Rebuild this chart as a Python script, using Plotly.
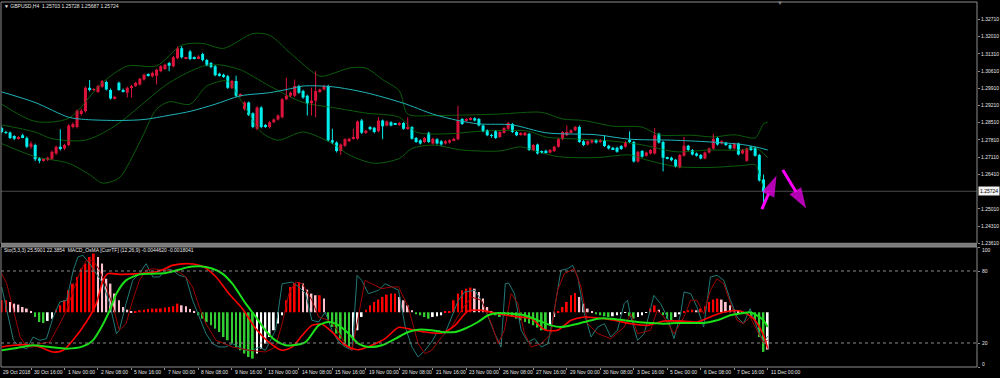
import plotly.graph_objects as go

# ---------------- data ----------------
opens = [1.2829,1.2813,1.2811,1.2797,1.2786,1.2800,1.2789,1.2753,1.2760,1.2706,
1.2698,1.2700,1.2704,1.2726,1.2753,1.2746,1.2760,1.2833,1.2833,1.2886,
1.2897,1.2993,1.2986,1.2976,1.2997,1.3016,1.2984,1.2950,1.3013,1.2984,
1.2973,1.2992,1.3000,1.3006,1.3026,1.3046,1.3040,1.3042,1.3060,1.3069,
1.3093,1.3080,1.3113,1.3153,1.3111,1.3140,1.3116,1.3113,1.3130,1.3106,
1.3093,1.3080,1.3050,1.3046,1.3040,1.2993,1.3020,1.2960,1.2906,1.2933,
1.2889,1.2826,1.2913,1.2842,1.2833,1.2853,1.2864,1.2873,1.2946,1.2960,
1.2960,1.3000,1.2980,1.2960,1.2930,1.2940,1.2976,1.2986,1.3000,1.2780,
1.2770,1.2736,1.2757,1.2776,1.2786,1.2786,1.2860,1.2810,1.2833,1.2830,
1.2816,1.2860,1.2840,1.2853,1.2847,1.2842,1.2850,1.2826,1.2833,1.2789,
1.2780,1.2773,1.2810,1.2766,1.2784,1.2776,1.2766,1.2770,1.2780,1.2784,
1.2866,1.2860,1.2864,1.2869,1.2866,1.2840,1.2820,1.2800,1.2816,1.2793,
1.2810,1.2826,1.2846,1.2813,1.2802,1.2800,1.2806,1.2740,1.2762,1.2734,
1.2737,1.2730,1.2736,1.2753,1.2784,1.2800,1.2813,1.2820,1.2833,1.2776,
1.2762,1.2770,1.2780,1.2773,1.2780,1.2757,1.2749,1.2749,1.2756,1.2753,
1.2780,1.2773,1.2693,1.2736,1.2717,1.2726,1.2726,1.2806,1.2773,1.2709,
1.2709,1.2700,1.2669,1.2717,1.2757,1.2740,1.2726,1.2720,1.2706,1.2730,
1.2746,1.2789,1.2766,1.2769,1.2760,1.2746,1.2766,1.2726,1.2696,1.2753,
1.2749,1.2720,1.2620,1.25703]

highs = [1.2835,1.2818,1.2815,1.2800,1.2797,1.2806,1.2795,1.2775,1.2766,1.2710,
1.2705,1.2713,1.2738,1.2758,1.2824,1.2765,1.2845,1.2852,1.2905,1.2908,
1.2998,1.3024,1.2992,1.3005,1.3025,1.3022,1.2990,1.2960,1.3018,1.2990,
1.2998,1.3005,1.3017,1.3033,1.3050,1.3052,1.3058,1.3070,1.3085,1.3091,
1.3098,1.3122,1.3160,1.3162,1.3118,1.3146,1.3120,1.3125,1.3135,1.3110,
1.3098,1.3085,1.3054,1.3050,1.3045,1.3025,1.3042,1.2970,1.2938,1.2937,
1.2893,1.2918,1.2918,1.2846,1.2858,1.2868,1.2885,1.2951,1.3033,1.2977,
1.3026,1.3005,1.2985,1.2965,1.2993,1.3060,1.2990,1.3005,1.3005,1.2826,
1.2775,1.2766,1.2788,1.2790,1.2826,1.2860,1.2866,1.2822,1.2838,1.2834,
1.2873,1.2864,1.2860,1.2857,1.2851,1.2854,1.2854,1.2873,1.2837,1.2793,
1.2784,1.2793,1.2814,1.2790,1.2788,1.2780,1.2780,1.2784,1.2790,1.2920,
1.2870,1.2870,1.2873,1.2873,1.2870,1.2844,1.2824,1.2806,1.2820,1.2817,
1.2833,1.2854,1.2850,1.2817,1.2813,1.2814,1.2810,1.2764,1.2766,1.2738,
1.2741,1.2744,1.2757,1.2788,1.2817,1.2840,1.2824,1.2837,1.2840,1.2780,
1.2780,1.2784,1.2784,1.2784,1.2800,1.2761,1.2753,1.2753,1.2760,1.2777,
1.2816,1.2777,1.2737,1.2740,1.2734,1.2744,1.2829,1.2810,1.2777,1.2713,
1.2713,1.2704,1.2724,1.2793,1.2761,1.2744,1.2730,1.2724,1.2734,1.2750,
1.2806,1.2793,1.2780,1.2773,1.2764,1.2770,1.2770,1.2744,1.2750,1.2757,
1.2753,1.2724,1.2640,1.25728]

lows = [1.2808,1.2805,1.2785,1.2780,1.2782,1.2788,1.2748,1.2745,1.2695,1.2686,
1.2693,1.2695,1.2700,1.2720,1.2738,1.2740,1.2755,1.2828,1.2828,1.2880,
1.2892,1.2978,1.2980,1.2972,1.2993,1.2982,1.2945,1.2946,1.2980,1.2974,
1.2953,1.2953,1.2996,1.3002,1.3022,1.3038,1.3035,1.3006,1.3056,1.3065,
1.3060,1.3076,1.3109,1.3112,1.3108,1.3105,1.3108,1.3110,1.3100,1.3080,
1.3072,1.3040,1.3038,1.3033,1.2988,1.2988,1.2955,1.2956,1.2900,1.2878,
1.2828,1.2820,1.2828,1.2830,1.2828,1.2849,1.2860,1.2868,1.2942,1.2955,
1.2955,1.2968,1.2948,1.2880,1.2880,1.2873,1.2972,1.2982,1.2775,1.2765,
1.2730,1.2720,1.2752,1.2772,1.2782,1.2782,1.2805,1.2806,1.2820,1.2808,
1.2812,1.2784,1.2836,1.2836,1.2842,1.2838,1.2822,1.2822,1.2782,1.2769,
1.2762,1.2769,1.2769,1.2762,1.2762,1.2758,1.2762,1.2766,1.2776,1.2780,
1.2842,1.2856,1.2860,1.2856,1.2836,1.2812,1.2796,1.2790,1.2785,1.2789,
1.2806,1.2822,1.2809,1.2796,1.2798,1.2796,1.2736,1.2736,1.2722,1.2726,
1.2726,1.2726,1.2732,1.2749,1.2780,1.2796,1.2809,1.2816,1.2769,1.2756,
1.2758,1.2766,1.2766,1.2769,1.2752,1.2742,1.2740,1.2729,1.2740,1.2749,
1.2769,1.2689,1.2689,1.2709,1.2713,1.2722,1.2722,1.2766,1.2653,1.2702,
1.2694,1.2669,1.2665,1.2713,1.2736,1.2718,1.2713,1.2702,1.2702,1.2726,
1.2742,1.2758,1.2762,1.2756,1.2742,1.2742,1.2718,1.2722,1.2692,1.2736,
1.2713,1.2612,1.2505,1.25687]

closes = [1.2813,1.2810,1.2789,1.2786,1.2792,1.2792,1.2753,1.2766,1.2702,1.2696,
1.2700,1.2709,1.2733,1.2753,1.2744,1.2760,1.2840,1.2846,1.2900,1.2900,
1.2993,1.2984,1.2987,1.3000,1.3020,1.2986,1.2949,1.2956,1.2984,1.2978,
1.2993,1.3000,1.3013,1.3029,1.3046,1.3042,1.3053,1.3066,1.3080,1.3086,
1.3082,1.3117,1.3153,1.3117,1.3114,1.3110,1.3113,1.3120,1.3106,1.3086,
1.3077,1.3044,1.3042,1.3037,1.2993,1.3020,1.2960,1.2966,1.2933,1.2882,
1.2833,1.2913,1.2833,1.2837,1.2853,1.2864,1.2880,1.2946,1.2960,1.2973,
1.3000,1.2973,1.2953,1.2930,1.2940,1.2980,1.2986,1.3000,1.2780,1.2770,
1.2736,1.2762,1.2784,1.2786,1.2793,1.2856,1.2810,1.2818,1.2824,1.2813,
1.2860,1.2837,1.2856,1.2840,1.2846,1.2850,1.2826,1.2833,1.2786,1.2773,
1.2766,1.2789,1.2773,1.2786,1.2766,1.2762,1.2776,1.2780,1.2786,1.2860,
1.2846,1.2866,1.2869,1.2860,1.2840,1.2816,1.2800,1.2797,1.2789,1.2813,
1.2829,1.2850,1.2813,1.2800,1.2809,1.2810,1.2740,1.2760,1.2726,1.2730,
1.2730,1.2740,1.2753,1.2784,1.2813,1.2813,1.2820,1.2833,1.2773,1.2760,
1.2776,1.2780,1.2770,1.2780,1.2756,1.2746,1.2744,1.2733,1.2744,1.2773,
1.2773,1.2693,1.2733,1.2713,1.2730,1.2740,1.2800,1.2770,1.2709,1.2706,
1.2698,1.2673,1.2720,1.2757,1.2740,1.2722,1.2717,1.2706,1.2730,1.2746,
1.2786,1.2762,1.2776,1.2760,1.2746,1.2766,1.2722,1.2740,1.2746,1.2740,
1.2717,1.2616,1.2570,1.25724]

# moving average (cyan) - sampled points (bar index, price)
ma_idx = [0,8,16,20,28,34,40,45,51,57,64,69,72,79,87,96,103,109,114,122,130,142,150,160,169,177,181,183]
ma_val = [1.2976,1.2933,1.2873,1.2864,1.2860,1.2864,1.2881,1.2897,1.2926,1.2960,1.2973,1.2989,1.3000,1.2997,
          1.2973,1.2930,1.2886,1.2860,1.2846,1.2842,1.2810,1.2802,1.2784,1.2780,1.2773,1.2762,1.2749,1.2740]

# Bollinger bands (dark green) - sampled points
bbu_idx = [0,8,16,24,30,37,43,48,53,60,64,69,76,79,83,87,91,95,97,103,110,119,129,134,139,146,153,157,165,170,175,180,181,182,183]
bbu_val = [1.2926,1.2856,1.2869,1.3013,1.3081,1.3082,1.3166,1.3173,1.3153,1.3213,1.3206,1.3133,1.3040,1.3050,
           1.3073,1.3073,1.3026,1.2980,1.2886,1.2880,1.2882,1.2886,1.2893,1.2866,1.2860,1.2837,1.2833,1.2802,
           1.2800,1.2793,1.2802,1.2789,1.2813,1.2846,1.2853]
bbm_idx = [0,8,12,20,27,40,48,52,57,64,72,79,87,95,99,107,114,122,126,130,138,146,153,161,169,177,180,182,183]
bbm_val = [1.2842,1.2813,1.2786,1.2780,1.2837,1.3013,1.3080,1.3086,1.3066,1.3000,1.2933,1.2913,1.2890,1.2873,
           1.2813,1.2806,1.2816,1.2820,1.2816,1.2793,1.2784,1.2776,1.2761,1.2733,1.2740,1.2740,1.2749,1.2726,1.2709]
bbl_idx = [0,8,16,21,24,28,33,37,40,45,49,54,57,62,66,72,79,83,89,95,98,103,110,119,124,128,133,142,150,154,161,169,177,180,181,182,183]
bbl_val = [1.2766,1.2713,1.2686,1.2640,1.2606,1.2626,1.2773,1.2906,1.2936,1.2926,1.3000,1.3020,1.2946,1.2813,
           1.2780,1.2813,1.2766,1.2720,1.2686,1.2706,1.2746,1.2760,1.2740,1.2736,1.2753,1.2733,1.2713,1.2709,
           1.2720,1.2700,1.2673,1.2669,1.2677,1.2680,1.2640,1.2586,1.2560]

# MACD OsMA histogram (in sub-window units, relative to its zero line)
osma = [10,10,8.6,7.2,6.4,4.4,3.1,1.1,-3.9,-8.1,
-8.9,-7.2,-5.3,2.2,5.8,10,18.3,23.9,29.4,36.4,
40.6,46.1,48.9,46.1,40.6,28,23.9,15.6,10,4.4,
2.2,0.6,0.8,1.7,2.2,2.8,3.1,3.1,3.3,3.9,
4.4,5,7.2,5.8,5,2.8,1.1,-2.5,-5.3,-8.1,
-10.8,-13.6,-16.4,-20.6,-23.3,-26.1,-28.9,-31.7,-34.4,-37.2,
-38.6,-34.4,-30.3,-26.1,-20.6,-15,-9.4,-2.5,10,21.1,
24.4,25.3,23.9,18.9,15.6,14.2,14.2,11.4,-6.7,-12.2,
-17.8,-21.9,-27.5,-28.9,-23.3,-15,-3.9,2.2,5.8,8.6,
10.6,12.8,14.7,15.6,15.6,12.8,10,5.8,1.7,-1.7,
-2.5,-3.9,-5.3,-3.9,-3.3,-2.5,0.6,0.8,10,15.6,
18.3,19.7,20.6,19.7,16.9,11.4,4.4,1.1,-2.5,-3.9,
-2.5,-2.5,-3.9,-5.3,-6.7,-8.1,-9.4,-10.8,-12.8,-15,
-15,-10.8,-3.9,0.3,4.4,8.6,14.2,16.1,12.8,7.2,
3.1,0.8,-1.7,-2.5,-3.3,-3.9,-3.3,-2.5,-1.7,-0.6,
-3.3,-5.3,-3.9,-2.5,-0.6,3.1,5.8,2.2,-2.5,-5.3,
-6.7,-3.9,-1.7,0.8,1.7,2.2,1.7,3.1,5,8.6,
10.6,11.4,10.6,8.6,5.8,2.2,0.3,-1.1,-1.7,-3.9,
-6.7,-20.6,-33,-31]

# Stochastic (5,3,3) main line (teal) and signal (dark red)
stk_idx = [0,1.2,2.8,4.4,6,7.5,9.1,10.7,12.3,13.9,15.5,17.1,18.2,19.4,21,22.6,24.2,25.8,27.4,28.1,
           29.7,31.3,32.9,34.5,36.1,37.7,39.3,40.8,42.4,44,45.6,47.2,48.8,50.4,51.9,53.5,55.1,56.7,58.3,59.9,
           61.5,63,65.4,67,69.4,71,72.6,74.1,75.7,77.3,78.9,80.5,82.1,83.7,84.9,86,87.6,90,91.6,93.2,94.8,
           96.4,98,99.5,101.1,102.7,104.3,105.9,107.5,109.1,110.6,113,114.6,116.2,117.8,119.3,120.3,121.1,122.5,124.1,125.7,
           127.3,128.9,130.5,132,133.6,135.2,136.4,137.6,139.2,140.8,142.4,144,145.5,147.1,148.7,149.5,150.3,151.9,153.5,155,
           155.8,157.4,159,160.6,162.2,163,164.6,166.1,167.7,169.3,170.9,172.5,174.1,175.7,177.2,178.8,180.4,182,183]
stk_val = [66.7,47.2,22.2,16.7,15.3,25,22.2,23.6,41.7,54.2,55.6,80.6,91.7,93.1,86.1,77.8,69.4,52.8,27.8,30.6,
           52.8,72.2,77.8,86.1,75,75,81.9,80.6,76.4,75,55.6,41.7,27.8,19.4,16.7,16.7,19.4,16.7,13.9,13.9,
           16.7,13.9,30.6,69.4,70.8,66.7,61.1,38.9,37.5,45.8,30.6,20.8,16.7,13.9,76.4,72.2,61.1,63.9,69.4,66.7,64,
           33.3,16.7,8.3,13.9,20.8,30.6,27.8,41.7,55.6,62.5,63.9,55.6,41.7,27.8,16.7,69.4,70,61.1,30.6,20.8,
           23.6,16.7,19.4,47.2,80.6,81.9,84.7,75,44.4,25,33.3,36.1,25,30.6,52.8,55.6,41.7,22.2,27.8,47.2,
           59.7,52.8,41.7,23.6,44.4,62.5,61.1,50,33.3,75,76.4,72.2,55.6,41.7,36.1,48.6,33.3,21.0,25.59]
std_idx = [0,1.2,2.8,4.4,6,7.5,9.1,11.5,13.9,15.5,17.1,18.6,20.2,21.8,23.4,25,26.6,28.1,29.7,31.3,
           32.9,34.5,36.1,39.3,42.4,44,45.6,47.2,48.8,51.2,55.1,59.1,63,65.4,67,68.6,70.2,71.8,74.1,75.7,
           78.1,79.7,82.1,83.7,85.2,86.8,88.4,90.8,93.2,94.8,
           97.1,99.5,101.1,102.7,105.1,107.5,109.8,112.2,114.6,117,118.6,120.1,121.7,123.3,124.9,126.5,128.9,131.2,132.8,134.4,
           136.8,138.4,140,142.4,145.5,148.7,150.3,151.9,155,156.6,158.2,160.6,163,164.6,166.1,167.7,169.3,170.9,172.5,174.1,
           175.7,177.2,178.8,180.4,182,183]
std_val = [77.8,69.4,47.2,25,16.7,16.7,19.4,20.8,36.1,47.2,63.9,77.8,88.9,88.9,80.6,66.7,50,30.6,36.1,55.6,
           72.2,80.6,81.9,80.6,79.2,75,66.7,50,36.1,22.2,16.7,13.9,12.5,16.7,36.1,61.1,70.8,69.4,55.6,41.7,
           38.9,33.3,19.4,13.9,41.7,72.2,69.4,65.3,66.7,66.7,
           50,19.4,11.1,13.9,25,33.3,47.2,58.3,55.6,36.1,19.4,30.6,61.1,52.8,27.8,16.7,19.4,27.8,63.9,77.8,
           81.9,66.7,36.1,27.8,23.6,33.3,44.4,27.8,30.6,47.2,41.7,27.8,41.7,55.6,55.6,44.4,63.9,73.6,69.4,52.8,
           38.9,36.1,41.7,30.6,20,22.39]

# MACD lines (bright red and lime), drawn in the sub-window scale
mred_idx = [0,2.8,5.9,9.1,12.3,14.7,17,20.2,22.6,24.2,25.4,28.2,32.9,37.7,40.8,44.8,48,51.2,54.3,57.5,
            60.7,63.8,67,69.4,71.8,74.1,76.5,78.9,82.1,85.2,88.4,91.6,94.8,
            98,101.1,105.1,108.3,111.4,114.6,118.6,122.5,126.5,129.7,132.8,136,139.2,142.4,146.3,150.3,154.2,
            158.2,163,166.1,169.3,172.5,176.5,179.6,182,183]
mred_val = [16.7,18.1,18.6,16.7,12.5,13.9,22.2,37.5,52.8,72.2,77.8,77.2,77.8,80,84.7,86.1,83.9,75,61.1,48.6,
            31.9,20.8,13.9,16.7,26.4,34.7,35.6,29.2,18.1,14.4,18.1,23.6,33,
            31.1,29.2,28.3,34.7,46.7,47.2,44.4,42.2,40.3,31.1,30.6,38.9,41.7,40.8,38.9,36.1,34.7,
            38.3,38.1,37.5,41.7,45.8,46.7,40.3,26.4,15.3]
mlime_idx = [0,3.6,7.5,11.5,15.5,19.4,21.8,23.4,25.8,27.4,29.7,32.9,36.1,39.2,42.4,44,47.2,50.4,52.7,55.1,
             58.3,60.7,63,65.4,67.8,69.4,72.6,75.7,78.1,80.5,82.9,85.2,87.6,90.8,94.8,
             97.1,99.5,102.7,105.1,108.3,110.6,113.8,116.2,118.6,121.7,124.9,128.1,131.2,133.6,136,139.2,142.4,145.5,148.7,151.9,
             155,158.2,161.4,164.6,167.7,170.9,174.1,177.2,178.8,180.4,182,183]
mlime_val = [13.9,15.8,18.1,16.7,15.3,17.2,22.2,30.6,47.2,61.1,72.2,77.2,77.8,78.3,81.1,82.8,83.9,81.9,77.8,69.4,
             52.8,41.7,30.6,22.2,18.1,18.1,20.8,34.7,37.5,34.7,27.8,19.4,16.7,18.1,25,
             29.2,31.1,30.6,29.2,29.2,31.9,37.5,43.1,45,44.4,43.1,38.9,34.7,33.3,34.7,37.5,40.3,40.3,38.9,37.5,
             36.7,36.1,36.7,36.7,36.7,38.9,43.1,45,45.6,43.1,38.9,33.3]

time_labels = ["30 Oct 16:00","1 Nov 00:00","2 Nov 08:00","5 Nov 16:00","7 Nov 00:00","8 Nov 08:00",
               "9 Nov 16:00","13 Nov 00:00","14 Nov 08:00","15 Nov 16:00","19 Nov 00:00","20 Nov 08:00",
               "21 Nov 16:00","23 Nov 00:00","26 Nov 08:00","27 Nov 16:00","29 Nov 00:00","30 Nov 08:00",
               "3 Dec 16:00","5 Dec 00:00","6 Dec 08:00","7 Dec 16:00","11 Dec 00:00"]
first_date_label = "29 Oct 2018"
bars_per_label = 8

price_ticks = [1.32710,1.32010,1.31310,1.30610,1.29910,1.29210,1.28510,1.27810,1.27110,1.26410,1.25010,1.24310,1.23610]
osc_ticks = [0, 20, 80, 100]
osc_levels = [20, 80]

# user-drawn arrows: tail point and arrow-head point (bar index, price)
arrow_tail_idx = [181.6, 186.6]
arrow_tail_val = [1.2500, 1.2659]
arrow_head_idx = [185.1, 192.2]
arrow_head_val = [1.2636, 1.2502]

symbol_text = "GBPUSD,H4"
sub_text = "Sto(5,3,3) 25.5901 22.3854  MACD_OsMA [CurrTF] (12,26,9) -0.0044620 -0.0018041"

# ---------------- layout geometry ----------------
W, H = 1000, 378
ML, MR, MT, MB = 1, 19, 2, 11
PH = H - MT - MB
PW = W - ML - MR
def py(ypx):
    return (H - MB - ypx) / PH
def px(xpx):
    return (xpx - ML) / PW
MAIN_BOTTOM_PX = 243.3
main_dom = [py(MAIN_BOTTOM_PX), 1.0]
sub_dom = [0.0, py(247)]
PX_PER_PRICE = 2461.5
price_lo = price_ticks[-1]
price_hi = price_lo + (MAIN_BOTTOM_PX - MT) / PX_PER_PRICE
OSMA_ZERO = 45.6
FONT = "Liberation Sans"
TXT = "#e6e6e6"
FRAME = "#8c8c8c"

n = len(closes)
idx = list(range(n))

fig = go.Figure()

# Bollinger bands
for xs, ys in [(bbu_idx, bbu_val), (bbm_idx, bbm_val), (bbl_idx, bbl_val)]:
    fig.add_trace(go.Scatter(x=xs, y=ys, mode="lines", line=dict(color="#0c5c0c", width=1, shape="spline", smoothing=0.8),
                             xaxis="x", yaxis="y", hoverinfo="skip"))

# candle wicks
for want_up, col in [(True, "#dc143c"), (False, "#00eeee")]:
    wx, wy = [], []
    for i in idx:
        if (closes[i] >= opens[i]) == want_up:
            wx += [i, i, None]
            wy += [lows[i], highs[i], None]
    fig.add_trace(go.Scatter(x=wx, y=wy, mode="lines", line=dict(color=col, width=1), xaxis="x", yaxis="y", hoverinfo="skip"))

# candle bodies
MINH = 0.00025
base, hgt, cols = [], [], []
for o, c in zip(opens, closes):
    lo, hi = min(o, c), max(o, c)
    h = hi - lo
    if h < MINH:
        lo -= (MINH - h) / 2
        h = MINH
    base.append(lo)
    hgt.append(h)
    cols.append("#dc143c" if c >= o else "#00eeee")
fig.add_trace(go.Bar(x=idx, y=hgt, base=base, width=0.72, marker=dict(color=cols, line=dict(width=0)),
                     xaxis="x", yaxis="y", hoverinfo="skip"))

fig.add_trace(go.Scatter(x=ma_idx, y=ma_val, mode="lines", line=dict(color="#1fb3b8", width=1, shape="spline", smoothing=0.8),
                         xaxis="x", yaxis="y", hoverinfo="skip"))

# drawn arrows (shaft + oriented arrow-head marker)
for tx, ty, hx, hy in zip(arrow_tail_idx, arrow_tail_val, arrow_head_idx, arrow_head_val):
    fig.add_trace(go.Scatter(x=[tx, hx], y=[ty, hy], mode="lines+markers",
                             line=dict(color="#ff00ff", width=3),
                             marker=dict(symbol=["circle", "arrow"], size=[0, 22], color="#ff00ff",
                                         angleref="previous", line=dict(width=0)),
                             xaxis="x", yaxis="y", hoverinfo="skip", cliponaxis=False))

# OsMA histogram
hcols = []
for k, h in enumerate(osma):
    prev = osma[k - 1] if k > 0 else h
    if h >= 0:
        hcols.append("#ff0000" if h >= prev else "#ffc0cb")
    else:
        hcols.append("#32cd32" if h <= prev else "#ffffff")
fig.add_trace(go.Bar(x=idx, y=osma, base=OSMA_ZERO, width=0.42, marker=dict(color=hcols, line=dict(width=0)),
                     xaxis="x", yaxis="y2", hoverinfo="skip"))

fig.add_trace(go.Scatter(x=stk_idx, y=stk_val, mode="lines", line=dict(color="#217a76", width=1),
                         xaxis="x", yaxis="y2", hoverinfo="skip"))
fig.add_trace(go.Scatter(x=std_idx, y=std_val, mode="lines", line=dict(color="#a00000", width=1),
                         xaxis="x", yaxis="y2", hoverinfo="skip"))
fig.add_trace(go.Scatter(x=mred_idx, y=mred_val, mode="lines", line=dict(color="#ff0000", width=1.6, shape="spline", smoothing=0.7),
                         xaxis="x", yaxis="y2", hoverinfo="skip"))
fig.add_trace(go.Scatter(x=mlime_idx, y=mlime_val, mode="lines", line=dict(color="#19e019", width=2, shape="spline", smoothing=0.7),
                         xaxis="x", yaxis="y2", hoverinfo="skip"))

# time ticks
last = n - 1
tick_pos = [last - bars_per_label * (len(time_labels) - 1 - j) for j in range(len(time_labels))]
x_left = -0.17
x_right = x_left + PW / 4.203

annotations = []
for pos, lab in zip(tick_pos, time_labels):
    annotations.append(dict(x=pos, y=py(372), xref="x", yref="paper", text=lab, showarrow=False,
                            xanchor="left", yanchor="middle", xshift=1, font=dict(size=5, color=TXT, family=FONT)))
annotations.append(dict(x=px(1), y=py(372), xref="paper", yref="paper", text=first_date_label, showarrow=False,
                        xanchor="left", yanchor="middle", font=dict(size=5, color=TXT, family=FONT)))
hdr = "\u25BC " + symbol_text + "  " + " ".join(f"{v:.5f}" for v in (opens[-1], highs[-1], lows[-1], closes[-1]))
annotations.append(dict(x=px(2), y=py(6), xref="paper", yref="paper", text=hdr, showarrow=False,
                        xanchor="left", yanchor="middle", font=dict(size=5, color=TXT, family=FONT)))
annotations.append(dict(x=px(2), y=py(250), xref="paper", yref="paper", text=sub_text, showarrow=False,
                        xanchor="left", yanchor="middle", font=dict(size=5, color=TXT, family=FONT)))
annotations.append(dict(x=1, y=closes[-1], xref="paper", yref="y", text=f"{closes[-1]:.5f}", showarrow=False,
                        xanchor="left", yanchor="middle", xshift=1, bgcolor="#f2f2f2", borderpad=1,
                        font=dict(size=5, color="#000000", family=FONT)))
annotations.append(dict(x=px(783), y=py(3), xref="paper", yref="paper", text="\u25BC", showarrow=False,
                        xanchor="center", yanchor="middle", font=dict(size=6, color="#808080", family=FONT)))
# oscillator scale labels (kept inside the sub-window like the terminal does)
osc_shift = {0: 3, 20: 0, 80: 0, 100: -2.5}
for t in osc_ticks:
    annotations.append(dict(x=1, y=t, xref="paper", yref="y2", text=str(t), showarrow=False,
                            xanchor="left", yanchor="middle", xshift=3, yshift=osc_shift[t],
                            font=dict(size=5, color=TXT, family=FONT)))

shapes = [
    dict(type="line", xref="paper", yref="y", x0=0, x1=1, y0=closes[-1], y1=closes[-1],
         line=dict(color="#4a4a4a", width=1), layer="below"),
    dict(type="rect", xref="paper", yref="paper", x0=0, x1=1, y0=sub_dom[1], y1=main_dom[0],
         fillcolor="#7a7a7a", line=dict(width=0)),
    dict(type="rect", xref="paper", yref="paper", x0=0, x1=1, y0=main_dom[0], y1=1,
         line=dict(color=FRAME, width=1)),
    dict(type="rect", xref="paper", yref="paper", x0=0, x1=1, y0=0, y1=sub_dom[1],
         line=dict(color=FRAME, width=1)),
]
for lv in osc_levels:
    shapes.append(dict(type="line", xref="paper", yref="y2", x0=0, x1=1, y0=lv, y1=lv,
                       line=dict(color="#8a8a8a", width=1, dash="dot")))

axis_common = dict(showgrid=False, zeroline=False, ticks="outside", ticklen=2, tickcolor=FRAME,
                   tickfont=dict(size=5, color=TXT, family=FONT), showline=False, fixedrange=True)

fig.update_layout(
    width=W, height=H, margin=dict(l=ML, r=MR, t=MT, b=MB, pad=0),
    paper_bgcolor="#000000", plot_bgcolor="#000000",
    showlegend=False, barmode="overlay",
    xaxis=dict(domain=[0, 1], range=[x_left, x_right], anchor="y2", tickvals=tick_pos,
               showticklabels=False, **axis_common),
    yaxis=dict(domain=main_dom, range=[price_lo, price_hi], side="right", anchor="x",
               tickvals=price_ticks, ticktext=[f"{p:.5f}" for p in price_ticks], **axis_common),
    yaxis2=dict(domain=sub_dom, range=[0, 100], side="right", anchor="x",
                tickvals=osc_ticks, showticklabels=False, **axis_common),
    annotations=annotations, shapes=shapes,
)

fig.write_html("out.html", config={"displayModeBar": False},
               post_script="document.body.style.margin='0px';document.body.style.overflow='hidden';")
